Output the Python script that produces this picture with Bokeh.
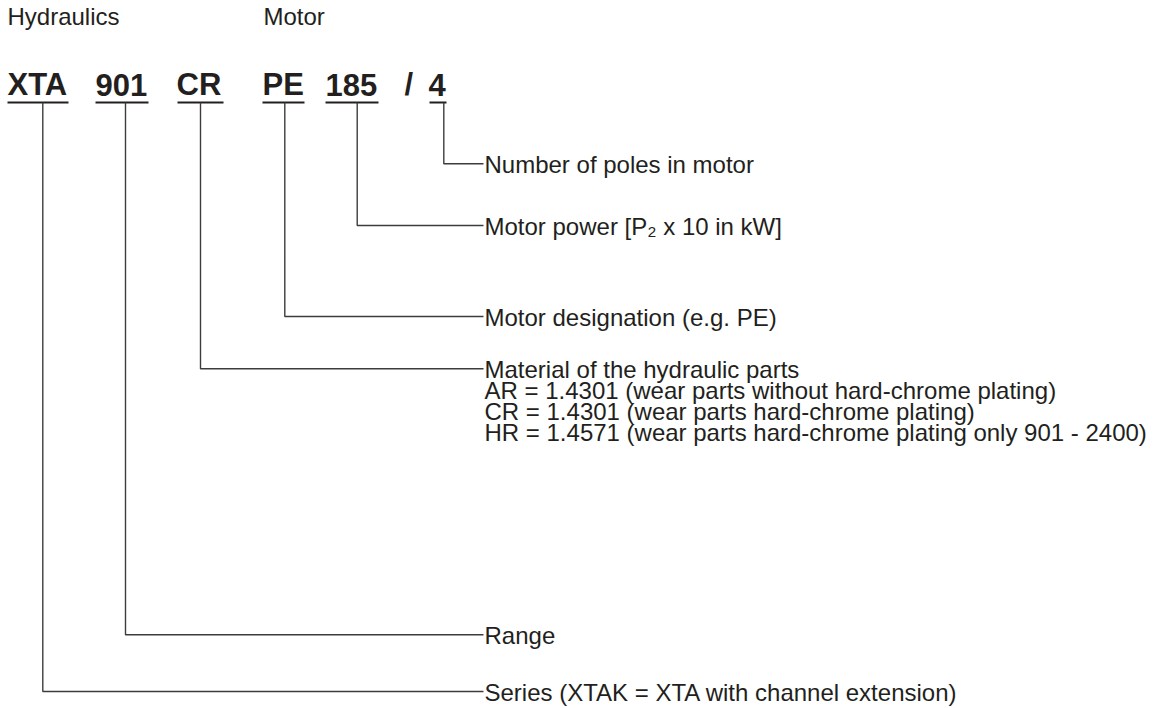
from bokeh.plotting import figure
from bokeh.models import Range1d
from bokeh.core.properties import value
from bokeh.embed import file_html
from bokeh.resources import INLINE

# ---- content ----
headers = ["Hydraulics", "Motor"]
code_parts = ["XTA", "901", "CR", "PE", "185", "/", "4"]
descriptions = [
    "Series (XTAK = XTA with channel extension)",
    "Range",
    "Material of the hydraulic parts",
    "Motor designation (e.g. PE)",
    "Motor power [P\u2082 x 10 in kW]",
    "",
    "Number of poles in motor",
]
material_options = [
    "AR = 1.4301 (wear parts without hard-chrome plating)",
    "CR = 1.4301 (wear parts hard-chrome plating)",
    "HR = 1.4571 (wear parts hard-chrome plating only 901 - 2400)",
]

# ---- layout (page pixel coordinates) ----
BASELINE_FIX = -9  # renderer places alphabetic baseline lower than nominal
header_x = [7, 263]
header_y = 25 + BASELINE_FIX
code_x = [7, 95, 176, 262, 325, 404, 428]
code_y = 93 + BASELINE_FIX
underline_x0 = [7, 95, 177, 262, 325, None, 429]
underline_x1 = [68, 148, 223, 304, 378, None, 446]
underline_y = 102
leader_x = [42.3, 125, 200, 284.3, 356.7, None, 443.3]
leader_level = [691, 634.3, 368.3, 316, 225, None, 163.3]
label_x = 484
line_end = 483
text_drop = 9.5 + BASELINE_FIX
sub_spacing = 21

TEXT_COL = "#231f20"
LINE_COL = "#3c3c3c"
FONT = value("Liberation Sans")

W, H = 1160, 708
p = figure(width=W, height=H, output_backend="svg", toolbar_location=None,
           x_range=Range1d(0, W), y_range=Range1d(H, 0),
           min_border=0, outline_line_color=None)
p.axis.visible = False
p.grid.visible = False
p.background_fill_color = "white"
p.border_fill_color = "white"

# headers
p.text(x=header_x, y=[header_y] * len(headers), text=headers,
       text_font=FONT, text_font_size="24px", text_color=TEXT_COL,
       text_baseline="alphabetic", text_align="left")

# code parts
p.text(x=code_x, y=[code_y] * len(code_parts), text=code_parts,
       text_font=FONT, text_font_size="31px", text_font_style="bold",
       text_color=TEXT_COL, text_baseline="alphabetic", text_align="left")

# underlines
ux0 = [a for a in underline_x0 if a is not None]
ux1 = [b for b in underline_x1 if b is not None]
p.segment(x0=ux0, y0=[underline_y] * len(ux0), x1=ux1, y1=[underline_y] * len(ux1),
          line_color=TEXT_COL, line_width=2)

# leader lines
xs, ys, lx, ly, lt = [], [], [], [], []
for xv, lv, d in zip(leader_x, leader_level, descriptions):
    if xv is None:
        continue
    xs.append([xv, xv, line_end])
    ys.append([underline_y, lv, lv])
    lx.append(label_x)
    ly.append(lv + text_drop)
    lt.append(d)
p.multi_line(xs=xs, ys=ys, line_color=LINE_COL, line_width=1.4)

# material sub-options
mat_level = leader_level[2]
for i, t in enumerate(material_options):
    lx.append(label_x)
    ly.append(mat_level + text_drop + sub_spacing * (i + 1))
    lt.append(t)

p.text(x=lx, y=ly, text=lt, text_font=FONT, text_font_size="24px",
       text_color=TEXT_COL, text_baseline="alphabetic", text_align="left")

open("out.html", "w").write(file_html(p, INLINE))
